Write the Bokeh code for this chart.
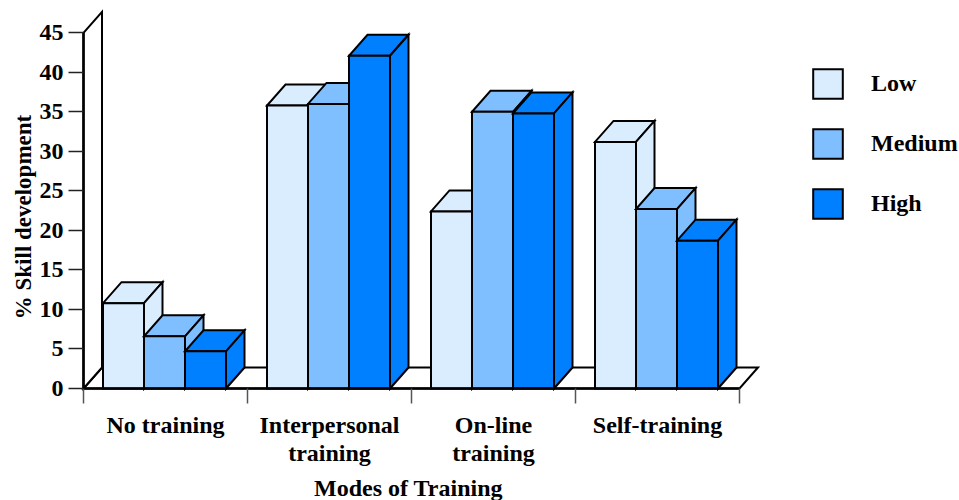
import numpy as np
from bokeh.plotting import figure
from bokeh.models import Range1d, FixedTicker, Legend, LegendItem, LinearAxis
from bokeh.core.properties import value
from bokeh.embed import file_html
from bokeh.resources import INLINE

# ---- data -------------------------------------------------------------
categories = ["No training", "Interpersonal\ntraining", "On-line\ntraining", "Self-training"]
levels = ["Low", "Medium", "High"]
low = [10.8, 35.8, 22.4, 31.2]
medium = [6.6, 36.0, 35.0, 22.7]
high = [4.7, 42.1, 34.8, 18.7]
colors = ["#DAEDFF", "#80BFFF", "#007FFF"]
y_ticks = list(range(0, 50, 5))

# ---- geometry (pixels per data unit) ---------------------------------
W, H = 959, 500
LEFT = 83          # value axis position, px from the left
BASE = 388         # zero line, px from the top
PX_X = 164.0       # pixels per category slot
PX_Y = 7.904       # pixels per percentage point
DX = 18.5 / PX_X   # oblique depth offset, x
DY = 21.0 / PX_Y   # oblique depth offset, y
BW = 41.0 / PX_X   # bar width
SHIFT = -1.0 / PX_X

FONT = "Liberation Serif"


def xdata(px):
    return 0.5 + (px - LEFT) / PX_X


def ydata(py):
    return (BASE - py) / PX_Y


p = figure(width=W, height=H, output_backend="svg", toolbar_location=None,
           x_range=Range1d(xdata(0), xdata(W)), y_range=Range1d(ydata(H), ydata(0)),
           x_axis_type=None, y_axis_type=None, min_border=0)
p.grid.visible = False
p.outline_line_color = None
p.background_fill_color = "white"
p.border_fill_color = "white"

# ---- axes -------------------------------------------------------------
ya = LinearAxis(fixed_location=0.5)
ya.ticker = FixedTicker(ticks=y_ticks, minor_ticks=[])
ya.bounds = (0, 45)
ya.axis_line_width = 2.5
ya.axis_line_color = "black"
ya.major_tick_out = 15
ya.major_tick_in = 0
ya.major_tick_line_width = 1.5
ya.major_tick_line_color = "#222222"
ya.minor_tick_line_color = None
ya.major_label_standoff = 5
ya.major_label_text_font = FONT
ya.major_label_text_font_style = "bold"
ya.major_label_text_font_size = "24px"
ya.major_label_text_color = "black"
p.add_layout(ya, "left")

centers = np.arange(1, len(categories) + 1)
bounds_ticks = [c - 0.5 for c in centers] + [centers[-1] + 0.5]
xa = LinearAxis(fixed_location=0)
xa.ticker = FixedTicker(ticks=list(centers), minor_ticks=bounds_ticks)
xa.major_label_overrides = {int(c): lab for c, lab in zip(centers, categories)}
xa.bounds = (0.5, len(categories) + 0.5)
xa.axis_line_width = 2.5
xa.axis_line_color = "black"
xa.major_tick_out = 15
xa.major_tick_in = 0
xa.major_tick_line_color = None
xa.minor_tick_out = 15
xa.minor_tick_in = 0
xa.minor_tick_line_width = 1.5
xa.minor_tick_line_color = "#555555"
xa.major_label_standoff = 8
xa.major_label_text_font = FONT
xa.major_label_text_font_style = "bold"
xa.major_label_text_font_size = "24px"
xa.major_label_text_color = "black"
xa.major_label_text_line_height = 1.1
p.add_layout(xa, "below")

# ---- side wall and floor ----------------------------------------------
x0, x1 = 0.5, len(categories) + 0.5
wall_xs = [x0, x0, x0 + DX, x0 + DX]
wall_ys = [0, 45, 45 + DY, DY]
floor_xs = [x0, x1, x1 + DX, x0 + DX]
floor_ys = [0, 0, DY, DY]
p.patches(xs=[floor_xs, wall_xs], ys=[floor_ys, wall_ys], fill_color="white",
          line_color="black", line_width=2, line_join="miter")

# ---- oblique bars -------------------------------------------------------
offsets = [-0.25, 0.0, 0.25]
renderers = []
for k, (vals, col) in enumerate(zip([low, medium, high], colors)):
    xc = centers + offsets[k] + SHIFT
    xs, ys = [], []
    for c, v in zip(xc, vals):
        l, r = c - BW / 2, c + BW / 2
        xs.append([l, r, r + DX, l + DX])        # top face
        ys.append([v, v, v + DY, v + DY])
        xs.append([r, r, r + DX, r + DX])        # right side face
        ys.append([0, v, v + DY, DY])
    p.patches(xs=xs, ys=ys, fill_color=col, line_color="black",
              line_width=2, line_join="miter")
    rend = p.vbar(x=xc, top=vals, bottom=0, width=BW, fill_color=col,
                  line_color="black", line_width=2, line_join="miter")
    renderers.append(rend)

# ---- legend -------------------------------------------------------------
legend = Legend(items=[LegendItem(label=name, renderers=[r]) for name, r in zip(levels, renderers)],
                location=(809, H - 222), glyph_width=37, glyph_height=37,
                spacing=23, padding=0, margin=0, label_standoff=25,
                label_text_font=FONT, label_text_font_style="bold",
                label_text_font_size="24px", label_text_color="black",
                border_line_alpha=0, background_fill_alpha=0)
p.add_layout(legend)

# ---- axis titles --------------------------------------------------------
p.text(x=[xdata(408)], y=[ydata(487)], text=["Modes of Training"],
       text_align="center", text_baseline="middle", text_color="black",
       text_font=value(FONT), text_font_style="bold", text_font_size="24px")
p.text(x=[xdata(23)], y=[ydata(216.5)], text=["% Skill development"], angle=np.pi / 2,
       text_align="center", text_baseline="middle", text_color="black",
       text_font=value(FONT), text_font_style="bold", text_font_size="23px")

open("out.html", "w").write(file_html(p, INLINE))
